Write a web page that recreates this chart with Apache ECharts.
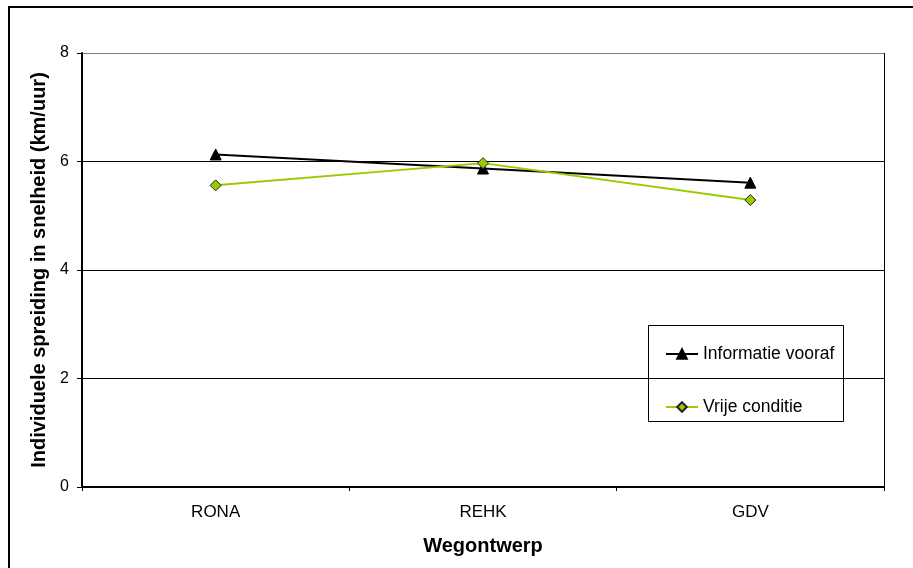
<!DOCTYPE html>
<html><head><meta charset="utf-8">
<script src="https://cdn.jsdelivr.net/npm/echarts@6/dist/echarts.min.js"></script>
<style>html,body{margin:0;padding:0;background:#fff}#c{width:913px;height:568px}</style>
</head><body><div id="c"></div>
<script>
const categories = ['RONA', 'REHK', 'GDV'];
const informatieVooraf = [6.13, 5.87, 5.61];
const vrijeConditie = [5.56, 5.97, 5.29];
const yTicks = [0, 2, 4, 6, 8];

const chart = echarts.init(document.getElementById('c'));
const F = 'Arial, "Liberation Sans", sans-serif';
chart.setOption({
  animation: false,
  backgroundColor: '#fff',
  grid: { left: 82, right: 29, top: 53, bottom: 81, containLabel: false },
  xAxis: {
    type: 'category', data: categories, boundaryGap: true,
    name: 'Wegontwerp', nameLocation: 'middle', nameGap: 49,
    nameTextStyle: { fontFamily: F, fontSize: 20, fontWeight: 'bold', color: '#000' },
    axisLine: { lineStyle: { color: '#000', width: 2 } },
    axisTick: { show: true, length: 4, lineStyle: { color: '#000', width: 1 } },
    axisLabel: { fontFamily: F, fontSize: 17, color: '#000', margin: 17 }
  },
  yAxis: {
    type: 'value', min: 0, max: 8, interval: 2,
    name: 'Individuele spreiding in snelheid (km/uur)', nameLocation: 'middle', nameGap: 29,
    nameTextStyle: { fontFamily: F, fontSize: 20, fontWeight: 'bold', color: '#000' },
    axisLine: { show: true, lineStyle: { color: '#000', width: 2 } },
    axisTick: { show: true, length: 5, lineStyle: { color: '#000', width: 1 } },
    axisLabel: { fontFamily: F, fontSize: 16, color: '#000', margin: 13,
      formatter: v => yTicks.includes(v) ? String(v) : '' },
    splitLine: { show: true, lineStyle: { color: ['#000', '#000', '#000', '#000', '#808080'], width: 1 } }
  },
  legend: {
    orient: 'vertical', left: 665, top: 345, padding: 0,
    itemWidth: 32, itemHeight: 12, itemGap: 35, itemTextGap: 3,
    textStyle: { fontFamily: F, fontSize: 17.5, color: '#000' },
    data: ['Informatie vooraf', 'Vrije conditie']
  },
  graphic: [
    { type: 'rect', z: -1, shape: { x: 9, y: 7, width: 1000, height: 1000 }, style: { fill: 'none', stroke: '#000', lineWidth: 2 } },
    { type: 'line', shape: { x1: 884.5, y1: 53, x2: 884.5, y2: 491 }, style: { stroke: '#000', lineWidth: 1 } },
    { type: 'rect', z: 0, shape: { x: 648.5, y: 325.5, width: 195, height: 96 }, style: { fill: '#fff', stroke: '#000', lineWidth: 1 } }
  ],
  series: [
    { name: 'Informatie vooraf', type: 'line', data: informatieVooraf, z: 3,
      symbol: 'triangle', symbolSize: 11,
      lineStyle: { color: '#000', width: 2 },
      itemStyle: { color: '#000', borderColor: '#000', borderWidth: 1 } },
    { name: 'Vrije conditie', type: 'line', data: vrijeConditie, z: 3,
      symbol: 'diamond', symbolSize: 11,
      lineStyle: { color: '#99CC00', width: 2 },
      itemStyle: { color: '#99CC00', borderColor: '#222', borderWidth: 1 } }
  ]
});
</script></body></html>
